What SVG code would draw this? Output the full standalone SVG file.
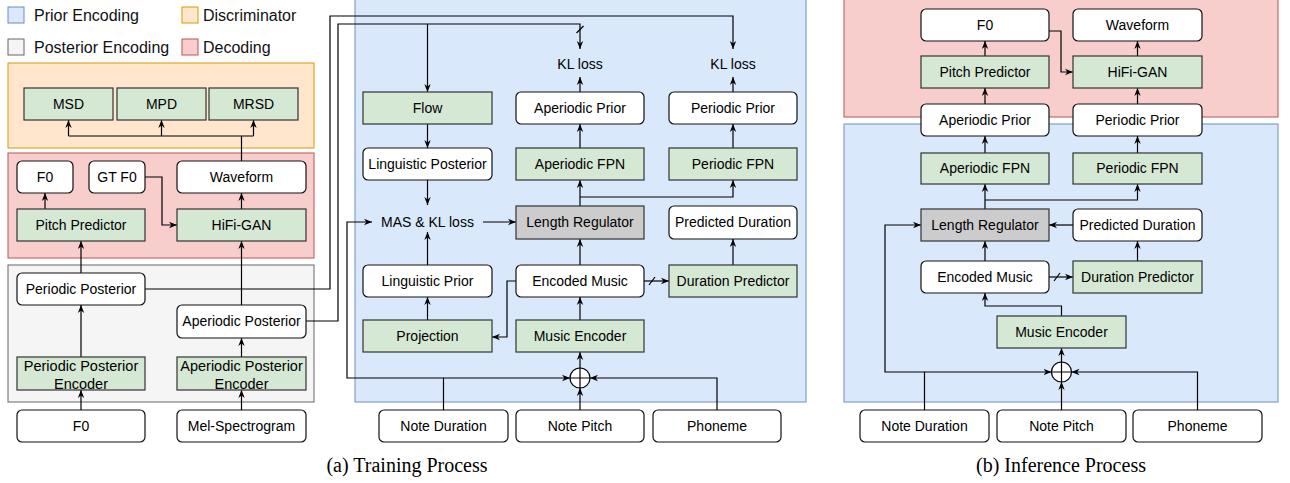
<svg xmlns="http://www.w3.org/2000/svg" width="1290" height="483" viewBox="0 0 1290 483">
<style>
.t{font-family:"Liberation Sans",Arial,sans-serif;font-size:14px;fill:#000;text-anchor:middle}
.lg{font-family:"Liberation Sans",Arial,sans-serif;font-size:16px;fill:#111}
.cap{font-family:"Liberation Serif","Times New Roman",serif;font-size:20px;fill:#000;text-anchor:middle}
.w{fill:#fff;stroke:#111;stroke-width:1.2}
.g{fill:#d5e8d4;stroke:#333;stroke-width:1.2}
.gr{fill:#cccccc;stroke:#333;stroke-width:1.2}
.pb{fill:#dae8fc;stroke:#6c8ebf;stroke-width:1}
.po{fill:#ffe6cc;stroke:#d79b00;stroke-width:1}
.pg{fill:#f5f5f5;stroke:#666;stroke-width:1}
.pr{fill:#f8cecc;stroke:#b85450;stroke-width:1}
.c{fill:none;stroke:#000;stroke-width:1.2}
.ca{fill:none;stroke:#000;stroke-width:1.2;marker-end:url(#ah)}
</style>
<defs>
<marker id="ah" viewBox="0 0 10 10" refX="10" refY="5" markerWidth="8" markerHeight="8" orient="auto" markerUnits="userSpaceOnUse">
<path d="M0,1 L10,5 L0,9 L3,5 z" fill="#000"/>
</marker>
</defs>

<!-- Panels -->
<g id="panels">
<rect class="po" x="8" y="63" width="306" height="85"/>
<rect class="pr" x="8" y="153" width="306" height="105"/>
<rect class="pg" x="8" y="265" width="306" height="137"/>
<rect class="pb" x="355" y="-1" width="451" height="403"/>
<rect class="pr" x="844" y="-1" width="434" height="118"/>
<rect class="pb" x="844" y="124" width="434" height="278"/>
</g>

<!-- Legend -->
<g id="legend">
<rect class="pb" x="8" y="7" width="16" height="16"/>
<text class="lg" x="34" y="21">Prior Encoding</text>
<rect class="po" x="182" y="7" width="16" height="16"/>
<text class="lg" x="203" y="21">Discriminator</text>
<rect class="pg" x="8" y="39" width="16" height="16"/>
<text class="lg" x="34" y="53">Posterior Encoding</text>
<rect class="pr" x="182" y="39" width="16" height="16"/>
<text class="lg" x="203" y="53">Decoding</text>
</g>

<!-- Connectors -->
<g id="connectors">
<!-- Left: discriminator -->
<path class="c" d="M241.5,161 V136 M68.5,136 H253.5"/>
<path class="ca" d="M68.5,136 V120"/>
<path class="ca" d="M161.5,136 V120"/>
<path class="ca" d="M253.5,136 V120"/>
<path class="ca" d="M45,209 V193"/>
<path class="ca" d="M241.5,209 V193"/>
<path class="ca" d="M145,177 H162 V225 H177"/>
<path class="ca" d="M81,273 V241"/>
<path class="ca" d="M241.5,305 V241"/>
<path class="ca" d="M81,357 V305"/>
<path class="ca" d="M241.5,357 V338"/>
<path class="ca" d="M81,410 V390"/>
<path class="ca" d="M241.5,410 V390"/>
<!-- Posterior to prior -->
<path class="ca" d="M145,289 H330 V16 H733 V49"/>
<path class="ca" d="M306,321 H338 V24 H580 V49"/>
<path class="c" d="M576.5,33 L583.5,26"/>
<path class="ca" d="M427.5,24 V92"/>
<!-- Middle -->
<path class="ca" d="M427.5,124 V148"/>
<path class="ca" d="M427.5,180 V205"/>
<path class="ca" d="M427.5,265 V232"/>
<path class="ca" d="M427.5,320 V297"/>
<path class="ca" d="M483,222 H516"/>
<path class="ca" d="M580,206 V180"/>
<path class="ca" d="M580,197 H733 V180"/>
<path class="ca" d="M580,148 V124"/>
<path class="ca" d="M733,148 V124"/>
<path class="ca" d="M580,92 V77"/>
<path class="ca" d="M733,92 V77"/>
<path class="ca" d="M733,265 V239"/>
<path class="ca" d="M580,265 V239"/>
<path class="ca" d="M580,320 V297"/>
<path class="ca" d="M580,368 V352"/>
<path class="ca" d="M580,410 V388"/>
<path class="ca" d="M717,410 V378 H590"/>
<path class="ca" d="M443.5,410 V378 H570"/>
<path class="ca" d="M443.5,378 H347 V222 H372"/>
<path class="ca" d="M516,281 H507 V337 H492"/>
<path class="ca" d="M644,281 H669"/>
<path class="c" d="M649,285 L655,277"/>
<!-- Right -->
<path class="ca" d="M1049,31 H1061 V72 H1073"/>
<path class="ca" d="M985,56 V41"/>
<path class="ca" d="M1137.5,56 V41"/>
<path class="ca" d="M985,104 V88"/>
<path class="ca" d="M1137.5,104 V88"/>
<path class="ca" d="M985,153 V136"/>
<path class="ca" d="M1137.5,153 V136"/>
<path class="ca" d="M985,209 V184"/>
<path class="ca" d="M985,200 H1137.5 V184"/>
<path class="ca" d="M1073,225 H1049"/>
<path class="ca" d="M985,261 V241"/>
<path class="ca" d="M1137.5,261 V241"/>
<path class="ca" d="M1049,277 H1073"/>
<path class="c" d="M1054,281 L1060,273"/>
<path class="ca" d="M1061.5,316 V306 H985 V293"/>
<path class="ca" d="M1061.5,362 V348"/>
<path class="ca" d="M1061.5,410 V382"/>
<path class="ca" d="M1197.5,410 V372 H1071.5"/>
<path class="ca" d="M924.5,410 V372 H1051.5"/>
<path class="ca" d="M924.5,372 H885 V225 H921"/>
</g>

<!-- Left nodes -->
<g id="msd"><rect class="g" x="24" y="88" width="89" height="32"/><text class="t" x="68.5" y="109">MSD</text></g>
<g id="mpd"><rect class="g" x="117" y="88" width="89" height="32"/><text class="t" x="161.5" y="109">MPD</text></g>
<g id="mrsd"><rect class="g" x="209" y="88" width="89" height="32"/><text class="t" x="253.5" y="109">MRSD</text></g>
<g id="f0-train"><rect class="w" x="17" y="161" width="56" height="32" rx="5"/><text class="t" x="45" y="182">F0</text></g>
<g id="gtf0"><rect class="w" x="89" y="161" width="56" height="32" rx="5"/><text class="t" x="117" y="182">GT F0</text></g>
<g id="waveform-train"><rect class="w" x="177" y="161" width="129" height="32" rx="5"/><text class="t" x="241.5" y="182">Waveform</text></g>
<g id="pitchpred-train"><rect class="g" x="17" y="209" width="128" height="32"/><text class="t" x="81" y="230">Pitch Predictor</text></g>
<g id="hifigan-train"><rect class="g" x="177" y="209" width="129" height="32"/><text class="t" x="241.5" y="230">HiFi-GAN</text></g>
<g id="periodic-posterior"><rect class="w" x="17" y="273" width="128" height="32" rx="5"/><text class="t" x="81" y="294">Periodic Posterior</text></g>
<g id="aperiodic-posterior"><rect class="w" x="177" y="305" width="129" height="33" rx="5"/><text class="t" x="241.5" y="326">Aperiodic Posterior</text></g>
<g id="ppe"><rect class="g" x="17" y="357" width="128" height="33"/><text class="t" x="81" y="371" style="font-size:14.5px">Periodic Posterior</text><text class="t" x="81" y="389" style="font-size:14.5px">Encoder</text></g>
<g id="ape"><rect class="g" x="177" y="357" width="129" height="33"/><text class="t" x="241.5" y="371" style="font-size:14.5px">Aperiodic Posterior</text><text class="t" x="241.5" y="389" style="font-size:14.5px">Encoder</text></g>
<g id="f0-input"><rect class="w" x="17" y="410" width="128" height="32" rx="5"/><text class="t" x="81" y="431">F0</text></g>
<g id="mel"><rect class="w" x="177" y="410" width="129" height="32" rx="5"/><text class="t" x="241.5" y="431">Mel-Spectrogram</text></g>

<!-- Middle nodes -->
<g id="kl-ap"><text class="t" x="580" y="69">KL loss</text></g>
<g id="kl-p"><text class="t" x="733" y="69">KL loss</text></g>
<g id="flow"><rect class="g" x="363" y="92" width="129" height="32"/><text class="t" x="427.5" y="113">Flow</text></g>
<g id="ap-prior-train"><rect class="w" x="516" y="92" width="128" height="32" rx="5"/><text class="t" x="580" y="113">Aperiodic Prior</text></g>
<g id="p-prior-train"><rect class="w" x="669" y="92" width="128" height="32" rx="5"/><text class="t" x="733" y="113">Periodic Prior</text></g>
<g id="ling-post"><rect class="w" x="363" y="148" width="129" height="32" rx="5"/><text class="t" x="427.5" y="169">Linguistic Posterior</text></g>
<g id="ap-fpn-train"><rect class="g" x="516" y="148" width="128" height="32"/><text class="t" x="580" y="169">Aperiodic FPN</text></g>
<g id="p-fpn-train"><rect class="g" x="669" y="148" width="128" height="32"/><text class="t" x="733" y="169">Periodic FPN</text></g>
<g id="mas"><text class="t" x="427.5" y="227">MAS &amp; KL loss</text></g>
<g id="lr-train"><rect class="gr" x="516" y="206" width="128" height="33"/><text class="t" x="580" y="227">Length Regulator</text></g>
<g id="pd-train"><rect class="w" x="669" y="206" width="128" height="33" rx="5"/><text class="t" x="733" y="227">Predicted Duration</text></g>
<g id="ling-prior"><rect class="w" x="363" y="265" width="129" height="32" rx="5"/><text class="t" x="427.5" y="286">Linguistic Prior</text></g>
<g id="em-train"><rect class="w" x="516" y="265" width="128" height="32" rx="5"/><text class="t" x="580" y="286">Encoded Music</text></g>
<g id="dp-train"><rect class="g" x="669" y="265" width="128" height="32"/><text class="t" x="733" y="286">Duration Predictor</text></g>
<g id="projection"><rect class="g" x="363" y="320" width="129" height="32"/><text class="t" x="427.5" y="341">Projection</text></g>
<g id="me-train"><rect class="g" x="516" y="320" width="128" height="32"/><text class="t" x="580" y="341">Music Encoder</text></g>
<g id="sum-train"><circle cx="580" cy="378" r="10" fill="#fff" stroke="#000" stroke-width="1.2"/><path class="c" d="M570,378 H590 M580,368 V388"/></g>
<g id="nd-train"><rect class="w" x="379" y="410" width="129" height="32" rx="5"/><text class="t" x="443.5" y="431">Note Duration</text></g>
<g id="np-train"><rect class="w" x="516" y="410" width="128" height="32" rx="5"/><text class="t" x="580" y="431">Note Pitch</text></g>
<g id="ph-train"><rect class="w" x="653" y="410" width="128" height="32" rx="5"/><text class="t" x="717" y="431">Phoneme</text></g>

<!-- Right nodes -->
<g id="f0-inf"><rect class="w" x="921" y="9" width="128" height="32" rx="5"/><text class="t" x="985" y="30">F0</text></g>
<g id="waveform-inf"><rect class="w" x="1073" y="9" width="129" height="32" rx="5"/><text class="t" x="1137.5" y="30">Waveform</text></g>
<g id="pitchpred-inf"><rect class="g" x="921" y="56" width="128" height="32"/><text class="t" x="985" y="77">Pitch Predictor</text></g>
<g id="hifigan-inf"><rect class="g" x="1073" y="56" width="129" height="32"/><text class="t" x="1137.5" y="77">HiFi-GAN</text></g>
<g id="ap-prior-inf"><rect class="w" x="921" y="104" width="128" height="32" rx="5"/><text class="t" x="985" y="125">Aperiodic Prior</text></g>
<g id="p-prior-inf"><rect class="w" x="1073" y="104" width="129" height="32" rx="5"/><text class="t" x="1137.5" y="125">Periodic Prior</text></g>
<g id="ap-fpn-inf"><rect class="g" x="921" y="153" width="128" height="31"/><text class="t" x="985" y="173">Aperiodic FPN</text></g>
<g id="p-fpn-inf"><rect class="g" x="1073" y="153" width="129" height="31"/><text class="t" x="1137.5" y="173">Periodic FPN</text></g>
<g id="lr-inf"><rect class="gr" x="921" y="209" width="128" height="32"/><text class="t" x="985" y="230">Length Regulator</text></g>
<g id="pd-inf"><rect class="w" x="1073" y="209" width="129" height="32" rx="5"/><text class="t" x="1137.5" y="230">Predicted Duration</text></g>
<g id="em-inf"><rect class="w" x="921" y="261" width="128" height="32" rx="5"/><text class="t" x="985" y="282">Encoded Music</text></g>
<g id="dp-inf"><rect class="g" x="1073" y="261" width="129" height="32"/><text class="t" x="1137.5" y="282">Duration Predictor</text></g>
<g id="me-inf"><rect class="g" x="997" y="316" width="129" height="32"/><text class="t" x="1061.5" y="337">Music Encoder</text></g>
<g id="sum-inf"><circle cx="1061.5" cy="372" r="10" fill="#fff" stroke="#000" stroke-width="1.2"/><path class="c" d="M1051.5,372 H1071.5 M1061.5,362 V382"/></g>
<g id="nd-inf"><rect class="w" x="860" y="410" width="129" height="32" rx="5"/><text class="t" x="924.5" y="431">Note Duration</text></g>
<g id="np-inf"><rect class="w" x="997" y="410" width="129" height="32" rx="5"/><text class="t" x="1061.5" y="431">Note Pitch</text></g>
<g id="ph-inf"><rect class="w" x="1133" y="410" width="129" height="32" rx="5"/><text class="t" x="1197.5" y="431">Phoneme</text></g>

<!-- Captions -->
<text class="cap" x="407" y="472">(a) Training Process</text>
<text class="cap" x="1061" y="472">(b) Inference Process</text>
</svg>
